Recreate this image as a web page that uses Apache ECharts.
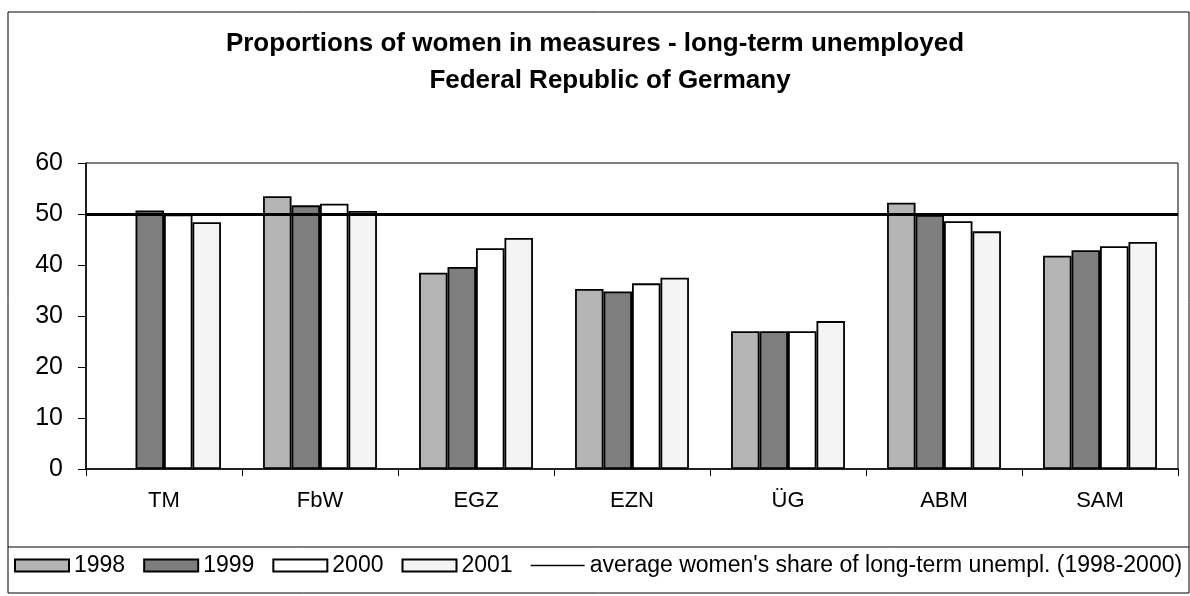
<!DOCTYPE html>
<html>
<head>
<meta charset="utf-8">
<script src="https://cdn.jsdelivr.net/npm/echarts@6/dist/echarts.min.js"></script>
<style>html,body{margin:0;padding:0;background:#fff}#c{width:1190px;height:596px}</style>
</head>
<body>
<div id="c"></div>
<script>
const categories = ['TM', 'FbW', 'EGZ', 'EZN', 'ÜG', 'ABM', 'SAM'];
const years = ['1998', '1999', '2000', '2001'];
const v1998 = [null, 53.5, 38.5, 35.3, 27.0, 52.2, 41.8];
const v1999 = [50.7, 51.7, 39.6, 34.8, 27.0, 49.8, 42.9];
const v2000 = [49.9, 52.0, 43.3, 36.4, 27.0, 48.6, 43.7];
const v2001 = [48.4, 50.6, 45.3, 37.5, 29.0, 46.6, 44.5];
const avgShare = 49.9;
const avgName = "average women's share of long-term unempl. (1998-2000)";
const yTicks = [0, 10, 20, 30, 40, 50, 60];

const fills = ['#b4b4b4', '#7e7e7e', '#ffffff', '#f4f4f4'];
const seriesValues = [v1998, v1999, v2000, v2001];
const FONT = 'Liberation Sans, Arial, sans-serif';
const lineIcon = 'path://M0,0L0,0.01M0,5.3L54,5.3L54,6.7L0,6.7ZM0,12L0,12.01';

const chart = echarts.init(document.getElementById('c'), null, {renderer: 'canvas'});

const barSeries = years.map((y, i) => ({
  name: y,
  type: 'bar',
  data: seriesValues[i],
  barGap: '0%',
  barCategoryGap: '27%',
  itemStyle: {color: fills[i], borderColor: '#000', borderWidth: 1.8},
  emphasis: {disabled: true},
  z: 2
}));

const option = {
  animation: false,
  backgroundColor: '#fff',
  title: [
    {text: 'Proportions of women in measures - long-term unemployed', left: 'center', top: 31,
     textStyle: {fontFamily: FONT, fontSize: 26, fontWeight: 'bold', color: '#000'}, padding: 0},
    {text: 'Federal Republic of Germany', left: 610, top: 68, textAlign: 'center',
     textStyle: {fontFamily: FONT, fontSize: 26, fontWeight: 'bold', color: '#000'}, padding: 0}
  ],
  grid: {left: 86, right: 12, top: 163, bottom: 127, show: true, borderColor: '#000', borderWidth: 1, containLabel: false},
  legend: {
    left: 14, top: 554, padding: 0, itemGap: 18, itemWidth: 54, itemHeight: 12,
    textStyle: {fontFamily: FONT, fontSize: 23, color: '#000'},
    data: years.map(y => ({name: y, icon: 'rect'})).concat([{
      name: avgName,
      icon: lineIcon,
      itemStyle: {color: '#000', borderWidth: 0}
    }])
  },
  xAxis: {
    type: 'category', data: categories,
    axisLine: {lineStyle: {color: '#000', width: 1.5}},
    axisTick: {show: true, length: 7, lineStyle: {color: '#000'}},
    axisLabel: {fontFamily: FONT, fontSize: 22, color: '#000', margin: 21}
  },
  yAxis: {
    type: 'value', min: 0, max: 60, interval: 10,
    axisLine: {show: true, lineStyle: {color: '#000', width: 1.5}},
    axisTick: {show: true, length: 8, lineStyle: {color: '#000'}},
    splitLine: {show: false},
    axisLabel: {fontFamily: FONT, fontSize: 25, color: '#000', margin: 23,
      formatter: v => yTicks.includes(v) ? String(v) : ''}
  },
  graphic: [
    {type: 'rect', shape: {x: 8, y: 12, width: 1181, height: 581}, style: {fill: 'none', stroke: '#000', lineWidth: 1}, silent: true},
    {type: 'line', shape: {x1: 8, y1: 547, x2: 1189, y2: 547}, style: {stroke: '#000', lineWidth: 1}, silent: true}
  ],
  series: barSeries.concat([{
    name: avgName, type: 'line', data: categories.map(() => null), symbol: 'none',
    lineStyle: {color: '#000', width: 1.5},
    itemStyle: {color: '#000'},
    markLine: {silent: true, symbol: 'none', label: {show: false},
      lineStyle: {color: '#000', width: 3, type: 'solid'}, data: [{yAxis: avgShare}]},
    z: 5
  }])
};
chart.setOption(option);
</script>
</body>
</html>
